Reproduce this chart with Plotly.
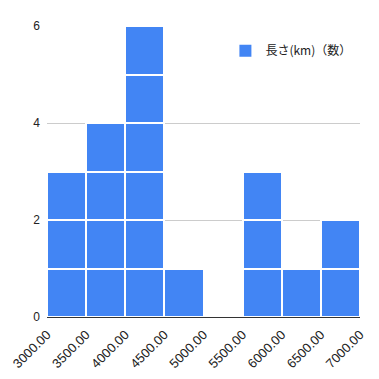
import plotly.graph_objects as go

bin_starts = [3000, 3500, 4000, 4500, 5000, 5500, 6000, 6500]
counts = [3, 4, 6, 1, 0, 3, 1, 2]
bin_width = 500
tick_vals = [3000, 3500, 4000, 4500, 5000, 5500, 6000, 6500, 7000]
series_name = "長さ(km)（数）"

BLUE = "#4285f4"
centers = [s + bin_width / 2 for s in bin_starts]
fig = go.Figure()
for k in range(max(counts)):
    ys = [1 if c > k else None for c in counts]
    fig.add_trace(go.Bar(
        x=centers, y=ys, width=bin_width,
        marker=dict(color=BLUE, line=dict(color="white", width=2)),
        name=series_name, showlegend=False, legendgroup="g",
        hoverinfo="skip",
    ))
# legend entry
fig.add_trace(go.Bar(x=[centers[0]], y=[None], name=series_name,
                     marker=dict(color=BLUE, line=dict(width=0)),
                     legendgroup="g", showlegend=True))

fig.update_layout(
    barmode="stack", bargap=0,
    width=379, height=379,
    margin=dict(l=47, r=19, t=26, b=62),
    paper_bgcolor="white", plot_bgcolor="white",
    font=dict(family="Noto Sans CJK JP, Arial", size=12, color="#222"),
    legend=dict(x=0.57, y=0.915, xanchor="left", yanchor="middle",
                bgcolor="rgba(0,0,0,0)", font=dict(size=12, color="#222"),
                itemwidth=30),
    xaxis=dict(range=[3000, 7000], tickvals=tick_vals, tickformat=".2f",
               tickangle=-45, showgrid=False, zeroline=False,
               showline=True, linecolor="#333", linewidth=1,
               ticks="", ticklabelstandoff=4, automargin=False,
               tickfont=dict(family="Arial", size=13, color="#222")),
    yaxis=dict(range=[0, 6], tickvals=[0, 2, 4, 6], showgrid=True,
               gridcolor="#cccccc", zeroline=False, showline=False,
               ticks="", ticklabelstandoff=6, automargin=False,
               tickfont=dict(family="Arial", size=12, color="#222")),
)
fig.write_html("out.html")
